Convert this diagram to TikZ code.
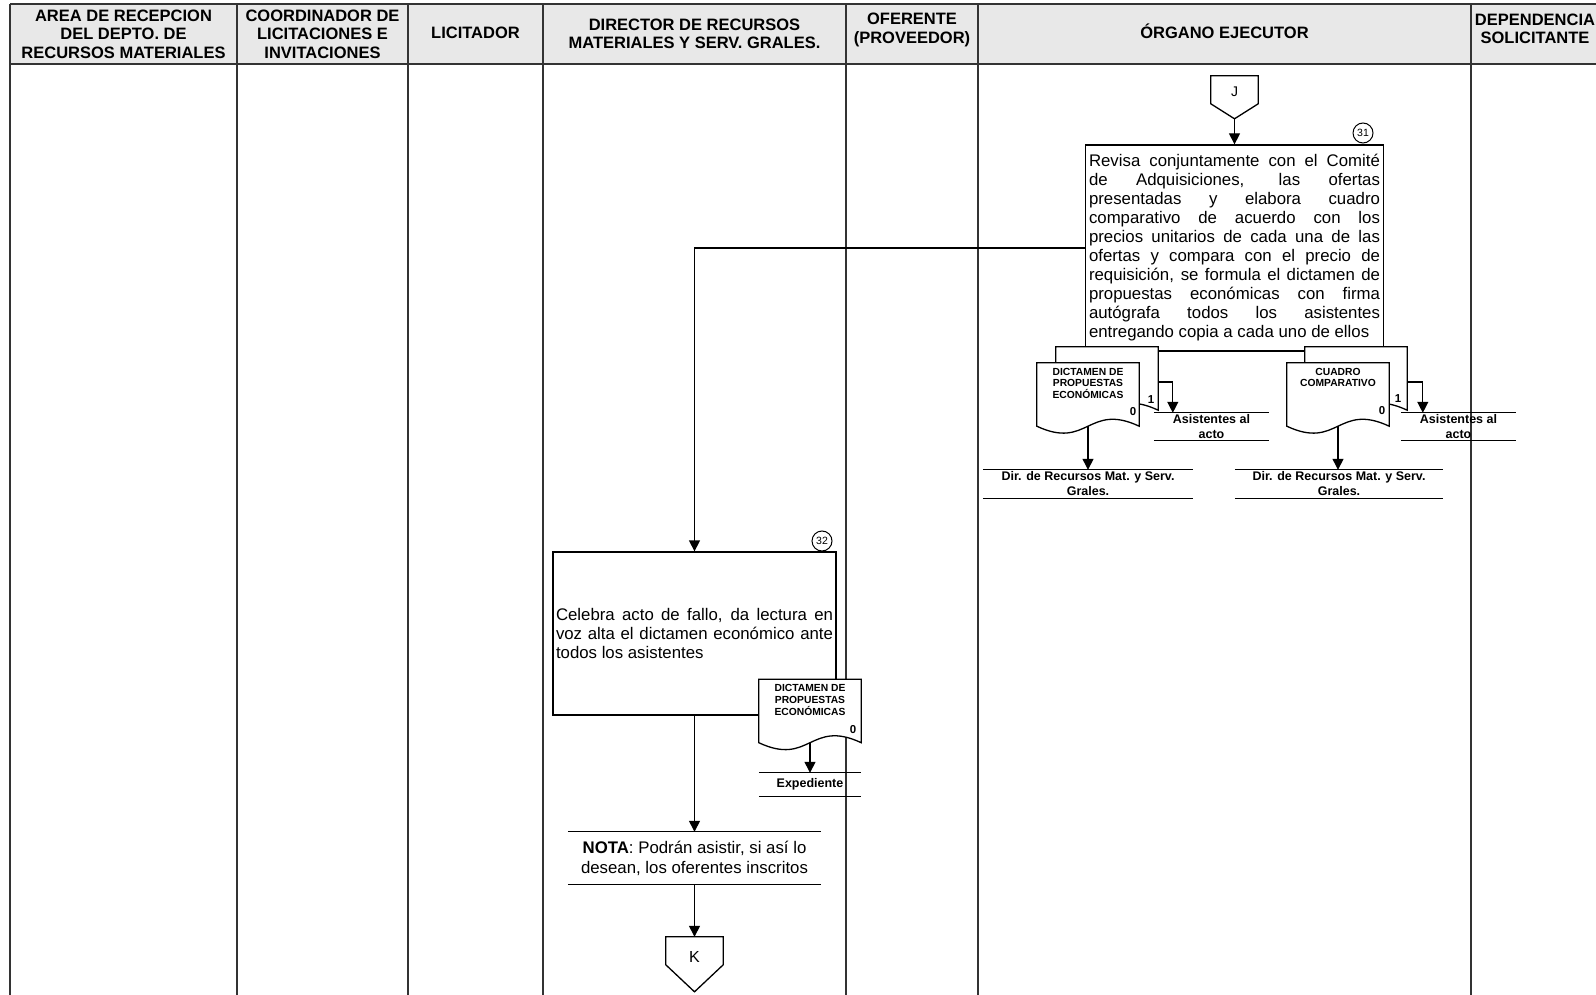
\documentclass[tikz,border=0pt]{standalone}
\usepackage{fontspec}
\setmainfont{Liberation Sans}
\usetikzlibrary{calc,positioning,arrows.meta}

% document sheet with a wavy bottom, drawn round an empty node
\newcommand{\docpath}[1]{%
  \draw[doc] (#1.south west) -- (#1.north west) -- (#1.north east) -- (#1.south east)
    .. controls ($(#1.south)+(0,-24)$) and ($(#1.south)+(0,24)$) .. (#1.south west) -- cycle;}
% off-page connector: shoulder depth, tip depth
\newcommand{\offpage}[3]{%
  \draw[conn] (#1.north west) -- (#1.north east) -- ($(#1.north east)+(0,#2)$)
    -- ($(#1.north)+(0,#3)$) coordinate (#1tip) -- ($(#1.north west)+(0,#2)$) -- cycle;}
% lines above and below a recipient
\newcommand{\barlines}[1]{%
  \draw[conn] (#1.north west) -- (#1.north east) (#1.south west) -- (#1.south east);}

\begin{document}
\begin{tikzpicture}[x=1pt, y=-1pt,
  lane/.style={line width=2pt, black!80},
  flow/.style={line width=1.3pt, -{Triangle[length=11pt,width=11pt]}},
  conn/.style={line width=1.3pt},
  doc/.style={line width=1.3pt, fill=white},
  hdr/.style={font=\bfseries\fontsize{16.5}{18.6}\selectfont, align=center, inner sep=0pt},
  proc/.style={draw, line width=1.3pt, fill=white, align=justify,
    font={\fontsize{16.8}{19}\selectfont\hyphenpenalty=10000\tolerance=10000}},
  stepno/.style={circle, draw, line width=1pt, minimum size=20pt, inner sep=0pt,
    font=\fontsize{10.5}{12}\selectfont},
  docbox/.style={minimum width=102pt, minimum height=63pt, inner sep=0pt},
  doctxt/.style={font=\bfseries\fontsize{10.3}{11.7}\selectfont, align=center, inner sep=0pt},
  num/.style={font=\bfseries\fontsize{11.5}{12}\selectfont, inner sep=0pt},
  rcpt/.style={font=\bfseries\fontsize{12.5}{15}\selectfont, align=center, inner sep=0pt},
  pagecon/.style={inner sep=0pt}]

\useasboundingbox (0,0) rectangle (1596,995);

% Draw the header and the lanes
\fill[gray!18] (10,4) rectangle (1600,64);
\foreach \x in {10,237,408,543,846,978,1471}
  \draw[lane] (\x,4) -- (\x,996);
\draw[lane] (10,4) -- (1600,4);
\draw[lane] (10,64) -- (1600,64);

\node[hdr] (h1) at (123.5,34) {AREA DE RECEPCION\\DEL DEPTO. DE\\RECURSOS MATERIALES};
\node[hdr] (h2) at (322.5,34) {COORDINADOR DE\\LICITACIONES E\\INVITACIONES};
\node[hdr] (h3) at (475.5,33) {LICITADOR};
\node[hdr] (h4) at (694.5,34) {DIRECTOR DE RECURSOS\\MATERIALES Y SERV. GRALES.};
\node[hdr] (h5) at (912,30) {OFERENTE\\(PROVEEDOR)};
\node[hdr] (h6) at (1224.5,31) {ÓRGANO EJECUTOR};
\node[hdr] (h7) at (1535,29) {DEPENDENCIA\\SOLICITANTE};

% Step 31
\node[pagecon, minimum width=47pt, minimum height=32pt, font=\fontsize{14}{16}\selectfont] (J) at (1234.5,92) {J};
\offpage{J}{28}{43}
\node[proc, text width=291pt, inner sep=3.5pt, minimum height=206pt] (b31) at (1234.5,248)
  {Revisa conjuntamente con el Comité\linebreak
   de Adquisiciones, las ofertas\linebreak
   presentadas y elabora cuadro\linebreak
   comparativo de acuerdo con los\linebreak
   precios unitarios de cada una de las\linebreak
   ofertas y compara con el precio de\linebreak
   requisición, se formula el dictamen de\linebreak
   propuestas económicas con firma\linebreak
   autógrafa todos los asistentes\linebreak
   entregando copia a cada uno de ellos};
\node[stepno] (n31) at (1363,133) {31};
\draw[flow] (Jtip) -- (b31);

% Step 32
\node[proc, text width=277pt, inner sep=3pt, minimum height=163pt] (b32) at (694.5,633.5)
  {Celebra acto de fallo, da lectura en\linebreak
   voz alta el dictamen económico ante\linebreak
   todos los asistentes};
\node[stepno] (n32) at (822,541) {32};
\draw[flow] (b31.west) -| (b32.north);

% Documents of step 31
\node[docbox] (d1b) at (1107,378.5) {};
\docpath{d1b}
\node[docbox] (d1) at (1088,394.5) {};
\docpath{d1}
\node[doctxt, below=5pt of d1.north] (d1t) {DICTAMEN DE\\PROPUESTAS\\ECONÓMICAS};
\node[num] (d1one) at (1151,400) {1};
\node[num] (d1zero) at (1133,412) {0};

\node[docbox] (d2b) at (1356,378.5) {};
\docpath{d2b}
\node[docbox] (d2) at (1338,394.5) {};
\docpath{d2}
\node[doctxt, below=5pt of d2.north] (d2t) {CUADRO\\COMPARATIVO};
\node[num] (d2one) at (1398,399) {1};
\node[num] (d2zero) at (1382,411) {0};

\node[rcpt, minimum width=115pt, minimum height=27pt] (as1) at (1211.5,426.5) {Asistentes al\\acto};
\barlines{as1}
\node[rcpt, minimum width=115pt, minimum height=27pt] (as2) at (1458.5,426.5) {Asistentes al\\acto};
\barlines{as2}
\node[rcpt, minimum width=210pt, minimum height=28pt] (dir1) at (1088,484) {Dir. de Recursos Mat. y Serv.\\Grales.};
\barlines{dir1}
\node[rcpt, minimum width=208pt, minimum height=28pt] (dir2) at (1339,484) {Dir. de Recursos Mat. y Serv.\\Grales.};
\barlines{dir2}

\draw[flow] ([yshift=-3.5pt]d1b.east) -| ([xshift=19pt]as1.north west);
\draw[flow] ([yshift=-3.5pt]d2b.east) -| ([xshift=22pt]as2.north west);
\draw[flow] (d1.south) -- (d1.south |- dir1.north);
\draw[flow] (d2.south) -- (d2.south |- dir2.north);

% Document of step 32
\node[docbox] (d3) at (810,711) {};
\docpath{d3}
\node[doctxt, below=5pt of d3.north] (d3t) {DICTAMEN DE\\PROPUESTAS\\ECONÓMICAS};
\node[num] (d3zero) at (853,730) {0};
\node[rcpt, minimum width=102pt, minimum height=23pt] (exp) at (810,784.5) {Expediente};
\barlines{exp}
\draw[flow] (d3.south) -- (exp.north);

% Note and exit connector
\node[inner sep=0pt, minimum width=253pt, minimum height=52pt, align=center,
  font=\fontsize{16.8}{20}\selectfont] (nota) at (694.5,858)
  {\textbf{NOTA}: Podrán asistir, si así lo\\desean, los oferentes inscritos};
\barlines{nota}
\draw[flow] (b32.south) -- (nota.north);

\node[pagecon, minimum width=57pt, minimum height=40pt, font=\fontsize{16}{18}\selectfont] (K) at (694.5,957) {K};
\offpage{K}{28}{55}
\draw[flow] (nota.south) -- (K.north);
\end{tikzpicture}
\end{document}
